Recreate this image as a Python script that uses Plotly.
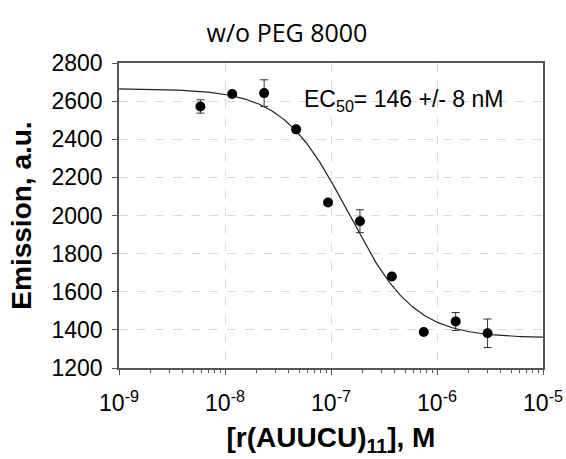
import numpy as np
import plotly.graph_objects as go

# Measured data
conc_M = [5.86e-9, 1.17e-8, 2.34e-8, 4.69e-8, 9.38e-8, 1.875e-7, 3.75e-7, 7.5e-7, 1.5e-6, 3.0e-6]
emission = [2572, 2637, 2642, 2452, 2068, 1970, 1680, 1389, 1444, 1382]
emission_err = [35, 8, 70, 8, 15, 60, 8, 8, 47, 75]

# Fitted dose-response parameters
fit_top = 2665
fit_bottom = 1358
fit_ec50 = 146e-9
fit_hill = 1.4

x_tick_vals = [1e-9, 1e-8, 1e-7, 1e-6, 1e-5]
x_tick_text = ["10<sup>-9</sup>", "10<sup>-8</sup>", "10<sup>-7</sup>", "10<sup>-6</sup>", "10<sup>-5</sup>"]

fit_x = np.logspace(-9, -5, 300)
fit_y = fit_bottom + (fit_top - fit_bottom) / (1 + (fit_x / fit_ec50) ** fit_hill)

fig = go.Figure()
fig.add_trace(go.Scatter(x=fit_x, y=fit_y, mode="lines",
                         line=dict(color="#222222", width=1.2), hoverinfo="skip"))
fig.add_trace(go.Scatter(x=conc_M, y=emission, mode="markers",
                         marker=dict(color="black", size=10),
                         error_y=dict(type="data", array=emission_err, color="#333333",
                                      thickness=1, width=4)))

tick_font = dict(family="Liberation Sans, Arial, sans-serif", size=23, color="black")
grid_col = "#d9d9d9"

fig.update_layout(
    width=566, height=459,
    margin=dict(l=119, r=23, t=63, b=91),
    paper_bgcolor="white", plot_bgcolor="white",
    showlegend=False,
    title=dict(text="w/o PEG 8000", x=287 / 566, xref="container", xanchor="center",
               y=1 - 33 / 459, yref="container", yanchor="middle", automargin=False,
               font=dict(family="Open Sans, sans-serif", size=25, color="black")),
    xaxis=dict(type="log", range=[-9, -5], tickvals=x_tick_vals, ticktext=x_tick_text,
               tickfont=tick_font, ticks="outside", ticklen=5, tickcolor="#555555",
               ticklabelstandoff=9,
               showline=True, linecolor="#555555", linewidth=1.5, mirror=True,
               showgrid=True, gridcolor=grid_col, griddash="dash", gridwidth=1,
               minor=dict(dtick="D1", ticks="outside", ticklen=3, tickcolor="#555555", showgrid=False),
               zeroline=False, automargin=False,
               title=dict(text="[r(AUUCU)<sub>11</sub>], M", standoff=12,
                          font=dict(family="Liberation Sans, Arial, sans-serif", size=28, color="black", weight="bold"))),
    yaxis=dict(range=[1200, 2800], dtick=200, tickfont=tick_font,
               ticks="outside", ticklen=5, tickcolor="#555555",
               ticklabelstandoff=5,
               showline=True, linecolor="#555555", linewidth=1.5, mirror=True,
               showgrid=True, gridcolor=grid_col, griddash="dash", gridwidth=1,
               zeroline=False, automargin=False,
               title=dict(text="Emission, a.u.", standoff=12,
                          font=dict(family="Liberation Sans, Arial, sans-serif", size=28, color="black", weight="bold"))),
    annotations=[dict(text="EC<sub>50</sub>= 146 +/- 8 nM", xref="paper", yref="y",
                      x=(302 - 119) / 424, y=2605, xanchor="left", yanchor="middle",
                      showarrow=False,
                      font=dict(family="Liberation Sans, Arial, sans-serif", size=23, color="black"))],
)

fig.write_html("out.html", config={"displayModeBar": False},
               post_script="document.body.style.margin='0';document.body.style.overflow='hidden';")
